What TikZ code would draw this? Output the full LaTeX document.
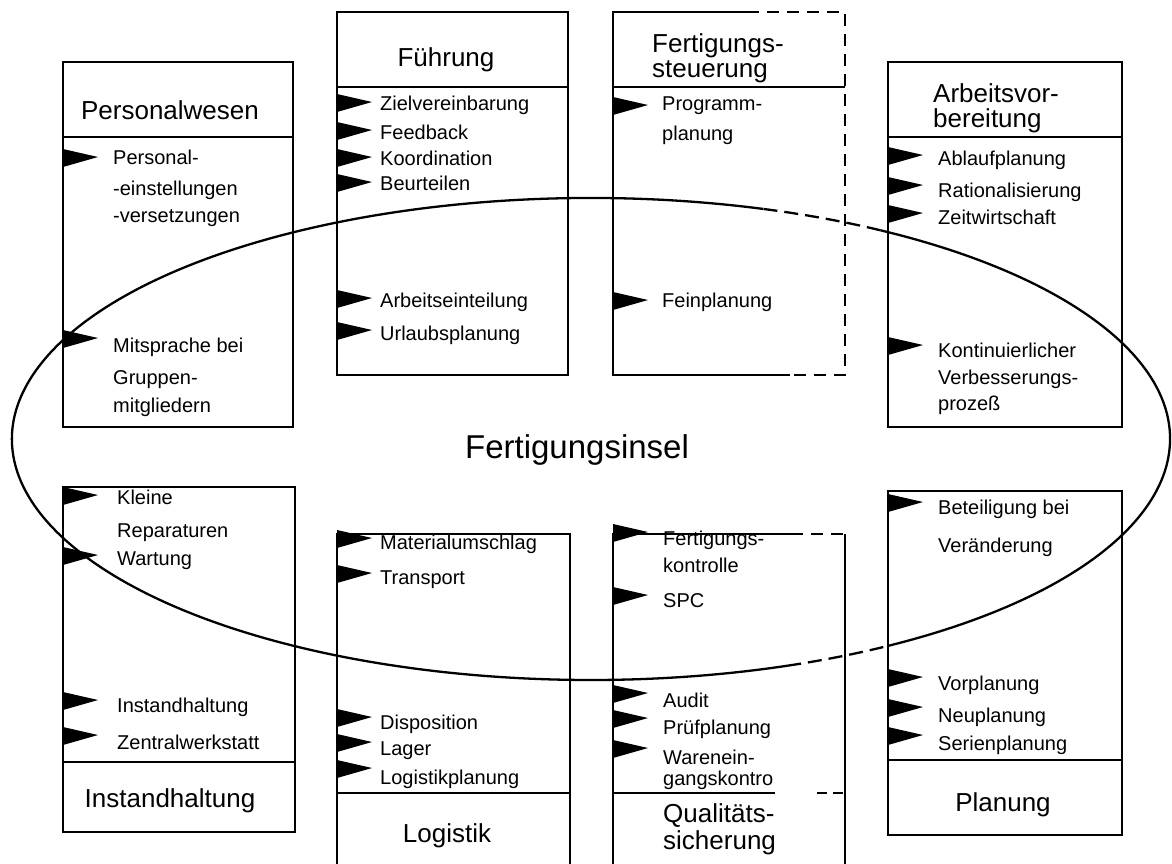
\documentclass[tikz,border=0pt]{standalone}
\usepackage{fontspec}
\setmainfont{Liberation Sans}
\tikzset{
  boxline/.style={line width=2.5pt},
  sepline/.style={line width=1.2pt},
  dashline/.style={line width=2.2pt, dash pattern=on 12pt off 8pt},
  ellline/.style={line width=2.3pt},
  itm/.style={font=\fontsize{20}{24}\selectfont, anchor=base west, inner sep=0pt},
  ttl/.style={font=\fontsize{26}{30}\selectfont, anchor=base, inner sep=0pt},
  ttll/.style={font=\fontsize{26}{30}\selectfont, anchor=base west, inner sep=0pt},
  bigttl/.style={font=\fontsize{33}{40}\selectfont, inner sep=0pt},
}
\newcommand{\flagmark}[2]{\fill (#1,#2-8) -- (#1+35,#2) -- (#1,#2+10) -- cycle;}
\newcommand{\itx}[4]{\node[itm] (#1) at (#2,#3+7) {#4};}
\begin{document}
\begin{tikzpicture}[x=1pt,y=-1pt]
\useasboundingbox (0,0) rectangle (1172,863);
\clip (0,0) rectangle (1172,863);
\fill[white] (0,0) rectangle (1172,863);

% ---------- boxes ----------
% Personalwesen
\draw[boxline] (63,62) rectangle (293,427);
\draw[sepline] (63,137) -- (293,137);
% Fuehrung
\draw[boxline] (337,12) rectangle (568,375);
\draw[sepline] (337,87) -- (568,87);
% Fertigungssteuerung
\draw[boxline] (790,375) -- (613,375) -- (613,12) -- (747,12);
\draw[dashline] (747,12) -- (845,12) -- (845,375) -- (790,375);
\draw[sepline] (613,87) -- (845,87);
% Arbeitsvorbereitung
\draw[boxline] (888,62) rectangle (1122,427);
\draw[sepline] (888,137) -- (1122,137);
% Instandhaltung
\draw[boxline] (63,487) rectangle (295,832);
\draw[sepline] (63,762) -- (295,762);
% Logistik
\draw[boxline] (337,534) rectangle (570,880);
\draw[sepline] (337,793) -- (570,793);
% Qualitaetssicherung
\draw[boxline] (791,534) -- (613,534) -- (613,880);
\draw[boxline] (845,534) -- (845,880);
\draw[dashline] (791,534) -- (845,534);
\draw[sepline] (613,793) -- (775,793);
\draw[sepline, dash pattern=on 10pt off 6pt] (817,793) -- (845,793);
% Planung
\draw[boxline] (888,491) rectangle (1122,835);
\draw[sepline] (888,760) -- (1122,760);

% ---------- ellipse ----------
\coordinate (ec) at (591,439);
\draw[ellline] (ec) ++(72.7:579pt and 241pt)
  arc[start angle=72.7, end angle=289.8, x radius=579pt, y radius=241pt];
\draw[ellline, dash pattern=on 14pt off 7pt] (ec) ++(-70.2:579pt and 241pt)
  arc[start angle=-70.2, end angle=-59.1, x radius=579pt, y radius=241pt];
\draw[ellline] (ec) ++(-59.1:579pt and 241pt)
  arc[start angle=-59.1, end angle=60, x radius=579pt, y radius=241pt];
\draw[ellline, dash pattern=on 14pt off 7pt] (ec) ++(60:579pt and 241pt)
  arc[start angle=60, end angle=72.7, x radius=579pt, y radius=241pt];
\node[bigttl] (fi) at (577,450) {Fertigungsinsel};

% ---------- titles ----------
\node[ttl] (tpw) at (170,119.5) {Personalwesen};
\node[ttl] (tfu) at (446,66.5) {Führung};
\node[ttll] (tfs1) at (652,52.5) {Fertigungs-};
\node[ttll] (tfs2) at (652,77.5) {steuerung};
\node[ttll] (tav1) at (933,102.5) {Arbeitsvor-};
\node[ttll] (tav2) at (933,127.5) {bereitung};
\node[ttl] (tih) at (170,807.5) {Instandhaltung};
\node[ttl] (tlo) at (447,842.5) {Logistik};
\node[ttll] (tqs1) at (663,822.5) {Qualitäts-};
\node[ttll] (tqs2) at (663,849.5) {sicherung};
\node[ttl] (tpl) at (1003,811.5) {Planung};

% ---------- flags ----------
\flagmark{63}{157}\flagmark{63}{338}
\flagmark{337}{102}\flagmark{337}{130}\flagmark{337}{157}\flagmark{337}{182}\flagmark{337}{298}\flagmark{337}{330}
\flagmark{613}{105}\flagmark{613}{300}
\flagmark{888}{155}\flagmark{888}{185}\flagmark{888}{213}\flagmark{888}{345}
\flagmark{63}{495}\flagmark{63}{555}\flagmark{63}{700}\flagmark{63}{735}
\flagmark{337}{538}\flagmark{337}{573}\flagmark{337}{717}\flagmark{337}{742}\flagmark{337}{768}
\flagmark{613}{532}\flagmark{613}{595}\flagmark{613}{693}\flagmark{613}{718}\flagmark{613}{748}
\flagmark{888}{502}\flagmark{888}{677}\flagmark{888}{707}\flagmark{888}{735}

% ---------- items ----------
\itx{pw1}{113}{157}{Personal-}
\itx{pw2}{113}{188}{-einstellungen}
\itx{pw3}{113}{215}{-versetzungen}
\itx{pw4}{113}{345}{Mitsprache bei}
\itx{pw5}{113}{377}{Gruppen-}
\itx{pw6}{113}{405}{mitgliedern}

\itx{fu1}{380}{103}{Zielvereinbarung}
\itx{fu2}{380}{132}{Feedback}
\itx{fu3}{380}{158}{Koordination}
\itx{fu4}{380}{183}{Beurteilen}
\itx{fu5}{380}{300}{Arbeitseinteilung}
\itx{fu6}{380}{333}{Urlaubsplanung}

\itx{fs1}{662}{103}{Programm-}
\itx{fs2}{662}{133}{planung}
\itx{fs3}{662}{300}{Feinplanung}

\itx{av1}{938}{158}{Ablaufplanung}
\itx{av2}{938}{190}{Rationalisierung}
\itx{av3}{938}{217}{Zeitwirtschaft}
\itx{av4}{938}{350}{Kontinuierlicher}
\itx{av5}{938}{377}{Verbesserungs-}
\itx{av6}{938}{403}{prozeß}

\itx{ih1}{117}{497}{Kleine}
\itx{ih2}{117}{530}{Reparaturen}
\itx{ih3}{117}{558}{Wartung}
\itx{ih4}{117}{705}{Instandhaltung}
\itx{ih5}{117}{742}{Zentralwerkstatt}

\itx{lo1}{380}{542}{Materialumschlag}
\itx{lo2}{380}{577}{Transport}
\itx{lo3}{380}{722}{Disposition}
\itx{lo4}{380}{748}{Lager}
\itx{lo5}{380}{777}{Logistikplanung}

\itx{qs1}{663}{538}{Fertigungs-}
\itx{qs2}{663}{565}{kontrolle}
\itx{qs3}{663}{600}{SPC}
\itx{qs4}{663}{700}{Audit}
\itx{qs5}{663}{727}{Prüfplanung}
\itx{qs6}{663}{757}{Warenein-}
\itx{qs7}{663}{778}{gangskontro}

\itx{pl1}{938}{507}{Beteiligung bei}
\itx{pl2}{938}{545}{Veränderung}
\itx{pl3}{938}{683}{Vorplanung}
\itx{pl4}{938}{715}{Neuplanung}
\itx{pl5}{938}{743}{Serienplanung}
\end{tikzpicture}
\end{document}
